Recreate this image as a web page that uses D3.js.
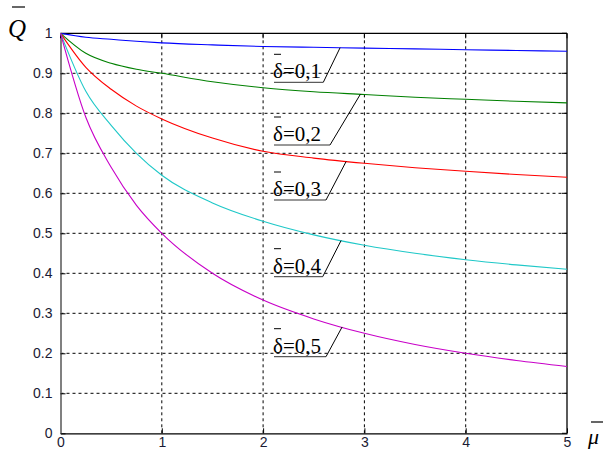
<!DOCTYPE html>
<html>
<head>
<meta charset="utf-8">
<script src="https://cdn.jsdelivr.net/npm/d3@7"></script>
<style>
  body { margin: 0; background: #fff; }
  svg { display: block; }
</style>
</head>
<body>
<div id="chart"></div>
<script>
var mu = [0, 0.25, 0.5, 0.75, 1, 1.5, 2, 2.5, 3, 3.5, 4, 4.5, 5];
// Q values, one array per delta
var q01 = [1, 0.99, 0.985, 0.98, 0.976, 0.971, 0.967, 0.965, 0.963, 0.961, 0.959, 0.957, 0.955];
var q02 = [1, 0.95, 0.925, 0.91, 0.9, 0.879, 0.864, 0.854, 0.847, 0.84, 0.835, 0.83, 0.826];
var q03 = [1, 0.915, 0.86, 0.818, 0.786, 0.738, 0.705, 0.688, 0.675, 0.664, 0.655, 0.647, 0.64];
var q04 = [1, 0.855, 0.77, 0.7, 0.645, 0.576, 0.53, 0.496, 0.47, 0.45, 0.434, 0.421, 0.41];
var q05 = [1, 0.79, 0.665, 0.57, 0.5, 0.4, 0.333, 0.286, 0.25, 0.222, 0.2, 0.182, 0.167];
var labels = ['0,1', '0,2', '0,3', '0,4', '0,5'];
var xTicks = [0, 1, 2, 3, 4, 5];
var yTicks = [0, 0.1, 0.2, 0.3, 0.4, 0.5, 0.6, 0.7, 0.8, 0.9, 1];
// where each leader line touches its curve
var leaderMu = [2.76, 2.96, 2.82, 2.77, 2.78];

var width = 604, height = 452;
var margin = { top: 33.3, right: 37, bottom: 18.7, left: 60.5 };
var colors = ['#0000ff', '#008000', '#ff0000', '#1fc8c8', '#c800c8'];
var series = [q01, q02, q03, q04, q05];

var svg = d3.select('#chart').append('svg')
    .attr('width', width).attr('height', height);

var x = d3.scaleLinear().domain([0, 5]).range([margin.left, width - margin.right]);
var y = d3.scaleLinear().domain([0, 1]).range([height - margin.bottom, margin.top]);

// grid
svg.append('g').selectAll('line').data(xTicks.slice(1, -1)).enter().append('line')
    .attr('x1', function(d){ return x(d); }).attr('x2', function(d){ return x(d); })
    .attr('y1', y(0)).attr('y2', y(1))
    .attr('stroke', '#000').attr('stroke-dasharray', '3,3').attr('stroke-width', 1);
svg.append('g').selectAll('line').data(yTicks.slice(1, -1)).enter().append('line')
    .attr('y1', function(d){ return y(d); }).attr('y2', function(d){ return y(d); })
    .attr('x1', x(0)).attr('x2', x(5))
    .attr('stroke', '#000').attr('stroke-dasharray', '3,3').attr('stroke-width', 1);

// axes
var xAxis = d3.axisBottom(x).tickValues(xTicks).tickSizeInner(-5).tickSizeOuter(0).tickPadding(8)
    .tickFormat(d3.format('d'));
var yAxis = d3.axisLeft(y).tickValues(yTicks).tickSizeInner(-5).tickSizeOuter(0).tickPadding(8)
    .tickFormat(function(d){ return d === 0 || d === 1 ? String(d) : d3.format('.1f')(d); });

var gx = svg.append('g').attr('transform', 'translate(0,' + y(0) + ')').call(xAxis);
var gy = svg.append('g').attr('transform', 'translate(' + x(0) + ',0)').call(yAxis);
[gx, gy].forEach(function(g){
  g.selectAll('text').attr('font-family', 'Liberation Sans, Arial, sans-serif')
    .attr('font-size', 14).attr('fill', '#1a1a33');
  g.selectAll('.tick line').attr('stroke', '#000');
});
gx.select('.domain').attr('stroke', '#000').attr('stroke-width', 1.3);
gy.select('.domain').attr('stroke', '#808080').attr('stroke-width', 2);
gx.selectAll('text').attr('y', 14).attr('dy', 0);

// top / right border
svg.append('line').attr('x1', x(0)).attr('x2', x(5)).attr('y1', y(1)).attr('y2', y(1))
    .attr('stroke', '#000').attr('stroke-width', 1.3);
svg.append('line').attr('x1', x(5)).attr('x2', x(5)).attr('y1', y(1)).attr('y2', y(0))
    .attr('stroke', '#000').attr('stroke-width', 1.3);
// right tick marks
svg.append('g').selectAll('line').data(yTicks).enter().append('line')
    .attr('x1', x(5)).attr('x2', x(5) - 5)
    .attr('y1', function(d){ return y(d); }).attr('y2', function(d){ return y(d); })
    .attr('stroke', '#000');
svg.append('g').selectAll('line').data(xTicks).enter().append('line')
    .attr('x1', function(d){ return x(d); }).attr('x2', function(d){ return x(d); })
    .attr('y1', y(1)).attr('y2', y(1) + 5)
    .attr('stroke', '#000');

// curves
var line = d3.line()
    .x(function(d, i){ return x(mu[i]); })
    .y(function(d){ return y(d); })
    .curve(d3.curveMonotoneX);
svg.append('g').selectAll('path').data(series).enter().append('path')
    .attr('d', line)
    .attr('fill', 'none')
    .attr('stroke', function(d, i){ return colors[i]; })
    .attr('stroke-width', 1.1);

// labels with leader lines
var underlineY = [82.3, 145, 200, 276.7, 356.7];
var leaderX0 = [323.3, 330, 326, 322.7, 326];
var textX = 273;
labels.forEach(function(lab, i) {
  var uy = underlineY[i];
  var g = svg.append('g');
  g.append('text')
      .attr('x', textX).attr('y', uy - 4)
      .attr('font-family', 'Liberation Serif, Times New Roman, serif')
      .attr('font-size', 20)
      .attr('textLength', 48).attr('lengthAdjust', 'spacingAndGlyphs')
      .attr('fill', '#000')
      .text('\u03b4=' + lab);
  // overline over delta
  g.append('line').attr('x1', textX + 1).attr('x2', textX + 8)
      .attr('y1', uy - 28).attr('y2', uy - 28)
      .attr('stroke', '#000').attr('stroke-width', 1);
  // underline
  g.append('line').attr('x1', textX + 1).attr('x2', leaderX0[i])
      .attr('y1', uy).attr('y2', uy)
      .attr('stroke', '#333').attr('stroke-width', 1);
  // leader to curve
  var m = leaderMu[i];
  var qv = d3.scaleLinear().domain(mu).range(series[i])(m);
  g.append('line').attr('x1', leaderX0[i]).attr('y1', uy)
      .attr('x2', x(m)).attr('y2', y(qv))
      .attr('stroke', '#000').attr('stroke-width', 1);
});

// axis titles
svg.append('text').attr('x', 8).attr('y', 37)
    .attr('font-family', 'Liberation Serif, Times New Roman, serif')
    .attr('font-style', 'italic').attr('font-size', 25).attr('fill', '#000')
    .text('Q');
svg.append('line').attr('x1', 12).attr('x2', 25).attr('y1', 7).attr('y2', 7)
    .attr('stroke', '#000').attr('stroke-width', 1.2);
svg.append('text').attr('x', 588).attr('y', 444)
    .attr('font-family', 'Liberation Serif, Times New Roman, serif')
    .attr('font-style', 'italic').attr('font-size', 22).attr('fill', '#000')
    .text('\u03bc');
svg.append('line').attr('x1', 591).attr('x2', 603).attr('y1', 422).attr('y2', 422)
    .attr('stroke', '#000').attr('stroke-width', 1.2);
</script>
</body>
</html>
